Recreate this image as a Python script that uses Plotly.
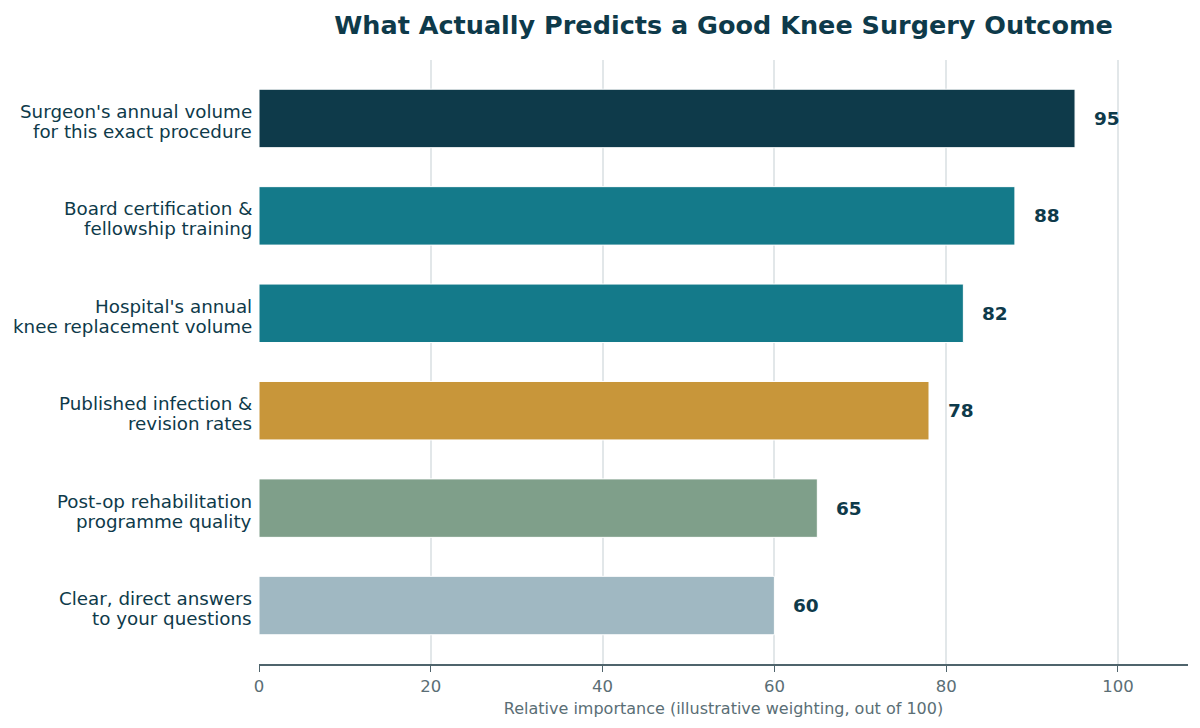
import plotly.graph_objects as go

categories = [
    "Surgeon's annual volume<br>for this exact procedure",
    "Board certification &<br>fellowship training",
    "Hospital's annual<br>knee replacement volume",
    "Published infection &<br>revision rates",
    "Post-op rehabilitation<br>programme quality",
    "Clear, direct answers<br>to your questions",
]
values = [95, 88, 82, 78, 65, 60]
colors = ["#0e3a4a", "#147a8a", "#147a8a", "#c8963a", "#7f9f8a", "#a0b8c2"]
tick_vals = [0, 20, 40, 60, 80, 100]

dark = "#0e3a4a"
font_family = "DejaVu Sans"

fig = go.Figure()
fig.add_trace(go.Bar(
    x=values,
    y=categories,
    orientation="h",
    width=0.6,
    marker=dict(color=colors, line=dict(color="white", width=1)),
    hoverinfo="x+y",
))

for c, v in zip(categories, values):
    fig.add_annotation(
        x=v, y=c, text=f"<b>{v}</b>", showarrow=False,
        xanchor="left", xshift=17, yshift=0,
        font=dict(family=font_family, size=18.5, color=dark),
    )
    # category label, drawn line by line with tighter line spacing
    lines = c.split("<br>")
    n = len(lines)
    for i, line in enumerate(lines):
        fig.add_annotation(
            xref="paper", x=0, y=c, text=line, showarrow=False,
            xanchor="right", xshift=-5, yanchor="middle",
            yshift=((n - 1) / 2 - i) * 20 - 3,
            font=dict(family=font_family, size=18.3, color=dark),
        )

fig.update_layout(
    width=1200, height=728,
    paper_bgcolor="white", plot_bgcolor="white",
    margin=dict(l=259, r=12, t=60, b=64),
    font=dict(family=font_family),
    title=dict(
        text="<b>What Actually Predicts a Good Knee Surgery Outcome</b>",
        x=(259 + 1188) / 2 / 1200, xanchor="center",
        y=1 - 25 / 728, yanchor="middle",
        font=dict(family=font_family, size=25.5, color=dark),
    ),
    showlegend=False,
    bargap=0.4,
)

fig.update_xaxes(
    range=[0, 108.15],
    tickvals=tick_vals,
    showgrid=True, gridcolor="#e2e7e9", gridwidth=1.5,
    zeroline=False,
    showline=True, linecolor="#4f646c", linewidth=1.5,
    ticks="outside", ticklen=6, tickcolor="#4f646c",
    tickfont=dict(family=font_family, size=16.5, color="#5a6e75"),
    title=dict(text="Relative importance (illustrative weighting, out of 100)",
               font=dict(family=font_family, size=16, color="#5a6e75"),
               standoff=8),
)
fig.update_yaxes(
    autorange=False,
    range=[5.6, -0.6],
    categoryorder="array", categoryarray=categories,
    showgrid=False, zeroline=False, showline=False,
    ticks="", showticklabels=False,
)

fig.write_html("out.html", config={"displayModeBar": False})

with open("out.html", "r", encoding="utf-8") as f:
    html = f.read()
html = html.replace("<head>", "<head><style>html,body{margin:0;padding:0;}</style>", 1)
with open("out.html", "w", encoding="utf-8") as f:
    f.write(html)
